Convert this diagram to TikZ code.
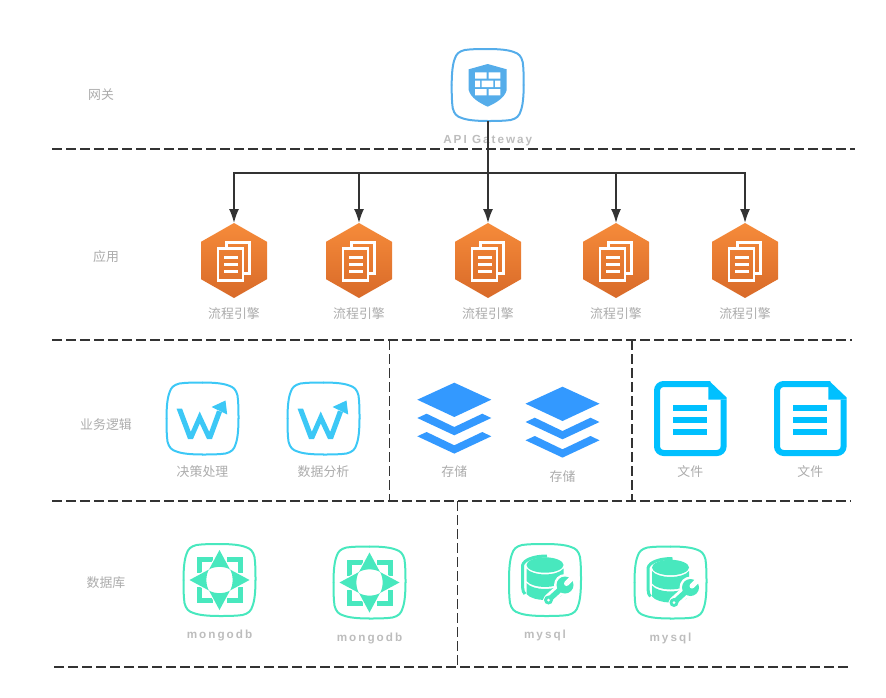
\documentclass[tikz,border=0pt]{standalone}
\usepackage{fontspec}
\setmainfont{Noto Sans CJK SC}
\newfontfamily\latinfont[LetterSpace=17]{Liberation Sans}
\usetikzlibrary{arrows.meta, positioning, calc}

\definecolor{gwblue}{HTML}{55ADEA}
\definecolor{sepgray}{HTML}{333333}
\definecolor{labgray}{HTML}{ABABAB}
\definecolor{latgray}{HTML}{BDBDBD}
\definecolor{hextop}{HTML}{F68B3A}
\definecolor{hexbot}{HTML}{D86A29}
\definecolor{wblue}{HTML}{3CC8F6}
\definecolor{stackblue}{HTML}{3399FF}
\definecolor{fileblue}{HTML}{00C0FF}
\definecolor{dbgreen}{HTML}{48E8BE}

\tikzset{
	iconbox/.style={rectangle, minimum size=2.16cm, inner sep=0pt, outer sep=0pt},
	hexbox/.style={rectangle, minimum width=1.98cm, minimum height=2.25cm, inner sep=0pt, outer sep=0pt},
	lab/.style={text=labgray, font=\fontsize{11}{11}\selectfont, inner sep=0pt, outer sep=0pt, text height=0.36cm, text depth=0.03cm},
	latinlab/.style={lab, text=latgray, font=\latinfont\bfseries\fontsize{10}{10}\selectfont},
	conn/.style={draw=sepgray, line width=0.05cm},
	sep/.style={draw=sepgray, line width=0.045cm, dash pattern=on 0.3cm off 0.12cm},
	% --- rounded card behind an icon ---
	pics/squircle/.style={code={
		\foreach \r in {0,90,180,270}
			\draw[#1, line width=0.06cm, line cap=round, rotate=\r] (0,-36) .. controls (12,-36) and (21,-35) .. (26,-33)
				.. controls (31,-31.5) and (33.5,-29) .. (35,-23) .. controls (36,-16) and (36,-8) .. (36,0);
	}},
	pics/shieldicon/.style={code={
		\fill[gwblue] (0,-21) -- (19,-15.7) -- (19,5) .. controls (17,13) and (8,18) .. (0,21.7)
			.. controls (-8,18) and (-17,13) .. (-19,5) -- (-19,-15.7) -- cycle;
		\fill[white] (-12.7,-12.7) rectangle (-1,-6.3) (1,-12.7) rectangle (12.7,-6.3);
		\fill[white] (-12.7,-4.3) rectangle (-7.7,2) (-6,-4.3) rectangle (5.7,2) (7.3,-4.3) rectangle (12.7,2);
		\fill[white] (-12.7,4) rectangle (-1,10.3) (1,4) rectangle (12.7,10.3);
	}},
	pics/hexdoc/.style={code={
		\shade[top color=hextop, bottom color=hexbot] (0,-37.5) -- (33,-18.7) -- (33,18.7) -- (0,37.5) -- (-33,18.7) -- (-33,-18.7) -- cycle;
		\draw[white, line width=0.08cm] (-16,-11.7) rectangle (9,20);
		\draw[white, line width=0.08cm] (-7.3,-13) -- (-7.3,-18) -- (15.3,-18) -- (15.3,13.3) -- (9,13.3);
		\foreach \y in {-2.7,4,11}
			\draw[white, line width=0.08cm] (-10,\y) -- (3.5,\y);
	}},
	pics/wicon/.style={code={
		\pic {squircle=wblue};
		\fill[wblue] (-26,-10) -- (-20.5,-10) -- (-11.7,13.3) -- (-2.8,-7) -- (6.7,13.4) -- (14.5,-8) -- (19.5,-6.5)
			-- (9.5,20.5) -- (4.5,20.5) -- (-2.7,5) -- (-9.5,20.5) -- (-14.5,20.5) -- cycle;
		\fill[wblue] (9,-11.5) -- (23,-18) -- (24.7,-4) -- cycle;
	}},
	pics/stackicon/.style={code={
		\fill[stackblue] (-37,-18.3) -- (0,-35.3) -- (37,-18.3) -- (0,-1) -- cycle;
		\foreach \y in {0,18.3}
			\fill[stackblue, yshift=-\y*0.03cm] (-37,0) -- (-27.7,-4.3) -- (0,9) -- (28,-4.3) -- (37,0) -- (0,17.3) -- cycle;
	}},
	pics/fileicon/.style={code={
		\draw[fileblue, line width=0.18cm, rounded corners=0.2cm] (20,-34.5) -- (-33.3,-34.5) -- (-33.3,34.5) -- (33.3,34.5) -- (33.3,-19);
		\fill[fileblue] (18,-37.5) -- (18,-19) -- (36.3,-19) -- (36.3,-21) -- (19,-37.5) -- cycle;
		\foreach \y in {-10.6,1.5,13.3}
			\draw[fileblue, line width=0.175cm] (-17,\y) -- (17,\y);
	}},
	pics/mongoicon/.style={code={
		\pic {squircle=dbgreen};
		\foreach \r in {0,90,180,270} {
			\draw[dbgreen, line width=0.15cm, rotate=\r] (-7,-20.5) -- (-20.5,-20.5) -- (-20.5,-7);
			\fill[white, rotate=\r] (0,-31) -- (12.5,-10) -- (-12.5,-10) -- cycle;
		}
		\foreach \r in {0,90,180,270}
			\fill[dbgreen, rotate=\r] (0,-30) -- (10.5,-10.5) .. controls (5,-14) and (-5,-14) .. (-10.5,-10.5) -- cycle;
	}},
	pics/mysqlicon/.style={code={
		\pic {squircle=dbgreen};
		\draw[dbgreen, line width=0.09cm] (-20,14) .. controls (-21.5,12) and (-22.3,11) .. (-22.3,8) -- (-22.3,-15) .. controls (-21,-20) and (-12,-24) .. (2,-24);
		\fill[dbgreen] (0,-15) ellipse (18.5 and 7.7);
		\fill[dbgreen] (-18.5,-11.5) .. controls (-12,-3.5) and (12,-3.5) .. (18.5,-11.5) -- (18.5,1) .. controls (12,9) and (-12,9) .. (-18.5,1) -- cycle;
		\fill[dbgreen] (-18.5,3) .. controls (-12,11) and (12,11) .. (18.5,3) -- (18.5,14) .. controls (12,22) and (-12,22) .. (-18.5,14) -- cycle;
		\draw[white, line width=0.33cm, line cap=round] (3.5,20) -- (20,5);
		\fill[white] (20,5) circle (11);
		\draw[dbgreen, line width=0.16cm, line cap=round] (3.5,20) -- (20,5);
		\fill[dbgreen] (3.5,20) circle (4.5);
		\fill[dbgreen] (20,5) circle (8.5);
		\draw[white, line width=0.15cm, line cap=round] (21.5,3.5) -- (31,-6);
		\fill[white] (3.5,20) circle (1.5);
	}}
}

\begin{document}
\begin{tikzpicture}[x=0.03cm, y=-0.03cm, >={Latex[length=0.42cm, width=0.3cm]}]
	\useasboundingbox (0,0) rectangle (886,698);

	% --- Separadores ---
	\foreach \n/\xa/\xb/\y in {g/52/855/149, a/52/852/340, b/52/851/501, d/54/852/667} {
		\coordinate (sep\n l) at (\xa,\y);
		\coordinate (sep\n r) at (\xb,\y);
		\draw[sep] (sep\n l) -- (sep\n r);
	}
	\coordinate (sepv1) at (389.5,340);
	\coordinate (sepv2) at (632,340);
	\coordinate (sepv3) at (457.5,501);
	\draw[sep] (sepv1) -- (sepv1 |- sepbl);
	\draw[sep] (sepv2) -- (sepv2 |- sepbl);
	\draw[sep] (sepv3) -- (sepv3 |- sepdl);

	% --- Nombres de capa ---
	\node[lab] (laygw) at (101,94) {网关};
	\node[lab] (layapp) at (106,256) {应用};
	\node[lab] (laybiz) at (106,424) {业务逻辑};
	\node[lab] (laydb) at (106,582) {数据库};

	% --- Gateway ---
	\node[iconbox] (gw) at (487.7,85) {};
	\pic at (gw) {squircle=gwblue};
	\pic at (gw) {shieldicon};
	\node[latinlab, below=0.315cm of gw] (gwlab) {API Gateway};

	% --- Aplicaciones ---
	\node[hexbox] (app1) at (234,260.5) {};
	\node[hexbox, right=1.77cm of app1] (app2) {};
	\node[hexbox, right=1.89cm of app2] (app3) {};
	\node[hexbox, right=1.86cm of app3] (app4) {};
	\node[hexbox, right=1.89cm of app4] (app5) {};
	\foreach \n in {app1,app2,app3,app4,app5} {
		\pic at (\n) {hexdoc};
		\node[lab, below=0.255cm of \n] (\n lab) {流程引擎};
	}

	% --- Conexiones ---
	\coordinate (hub) at (gw.south |- 0,173);
	\draw[conn] (gw.south) -- (hub);
	\foreach \n in {app1,app2,app3,app4,app5}
		\draw[conn, ->] (hub) -| (\n.north);

	% --- Logica de negocio ---
	\node[iconbox] (deci) at (202.5,418.5) {};
	\node[iconbox, right=1.47cm of deci] (anal) {};
	\pic at (deci) {wicon};
	\pic at (anal) {wicon};
	\node[lab, below=0.285cm of deci] (decilab) {决策处理};
	\node[lab, below=0.285cm of anal] (anallab) {数据分析};

	\node[iconbox] (stor1) at (454.3,418) {};
	\node[iconbox] (stor2) at (562.5,422) {};
	\pic at (stor1) {stackicon};
	\pic at (stor2) {stackicon};
	\node[lab, below=0.315cm of stor1] (stor1lab) {存储};
	\node[lab, below=0.345cm of stor2] (stor2lab) {存储};

	\node[iconbox] (file1) at (690.3,418.5) {};
	\node[iconbox, right=1.44cm of file1] (file2) {};
	\pic at (file1) {fileicon};
	\pic at (file2) {fileicon};
	\node[lab, below=0.285cm of file1] (file1lab) {文件};
	\node[lab, below=0.285cm of file2] (file2lab) {文件};

	% --- Bases de datos ---
	\node[iconbox] (mongo1) at (219.5,580) {};
	\node[iconbox] (mongo2) at (369.5,582.5) {};
	\pic at (mongo1) {mongoicon};
	\pic at (mongo2) {mongoicon};
	\node[latinlab, below=0.315cm of mongo1] (mongo1lab) {mongodb};
	\node[latinlab, below=0.315cm of mongo2] (mongo2lab) {mongodb};

	\node[iconbox] (mysql1) at (545,580) {};
	\node[iconbox] (mysql2) at (670.5,582.5) {};
	\pic at (mysql1) {mysqlicon};
	\pic at (mysql2) {mysqlicon};
	\node[latinlab, below=0.315cm of mysql1] (mysql1lab) {mysql};
	\node[latinlab, below=0.315cm of mysql2] (mysql2lab) {mysql};
\end{tikzpicture}
\end{document}
